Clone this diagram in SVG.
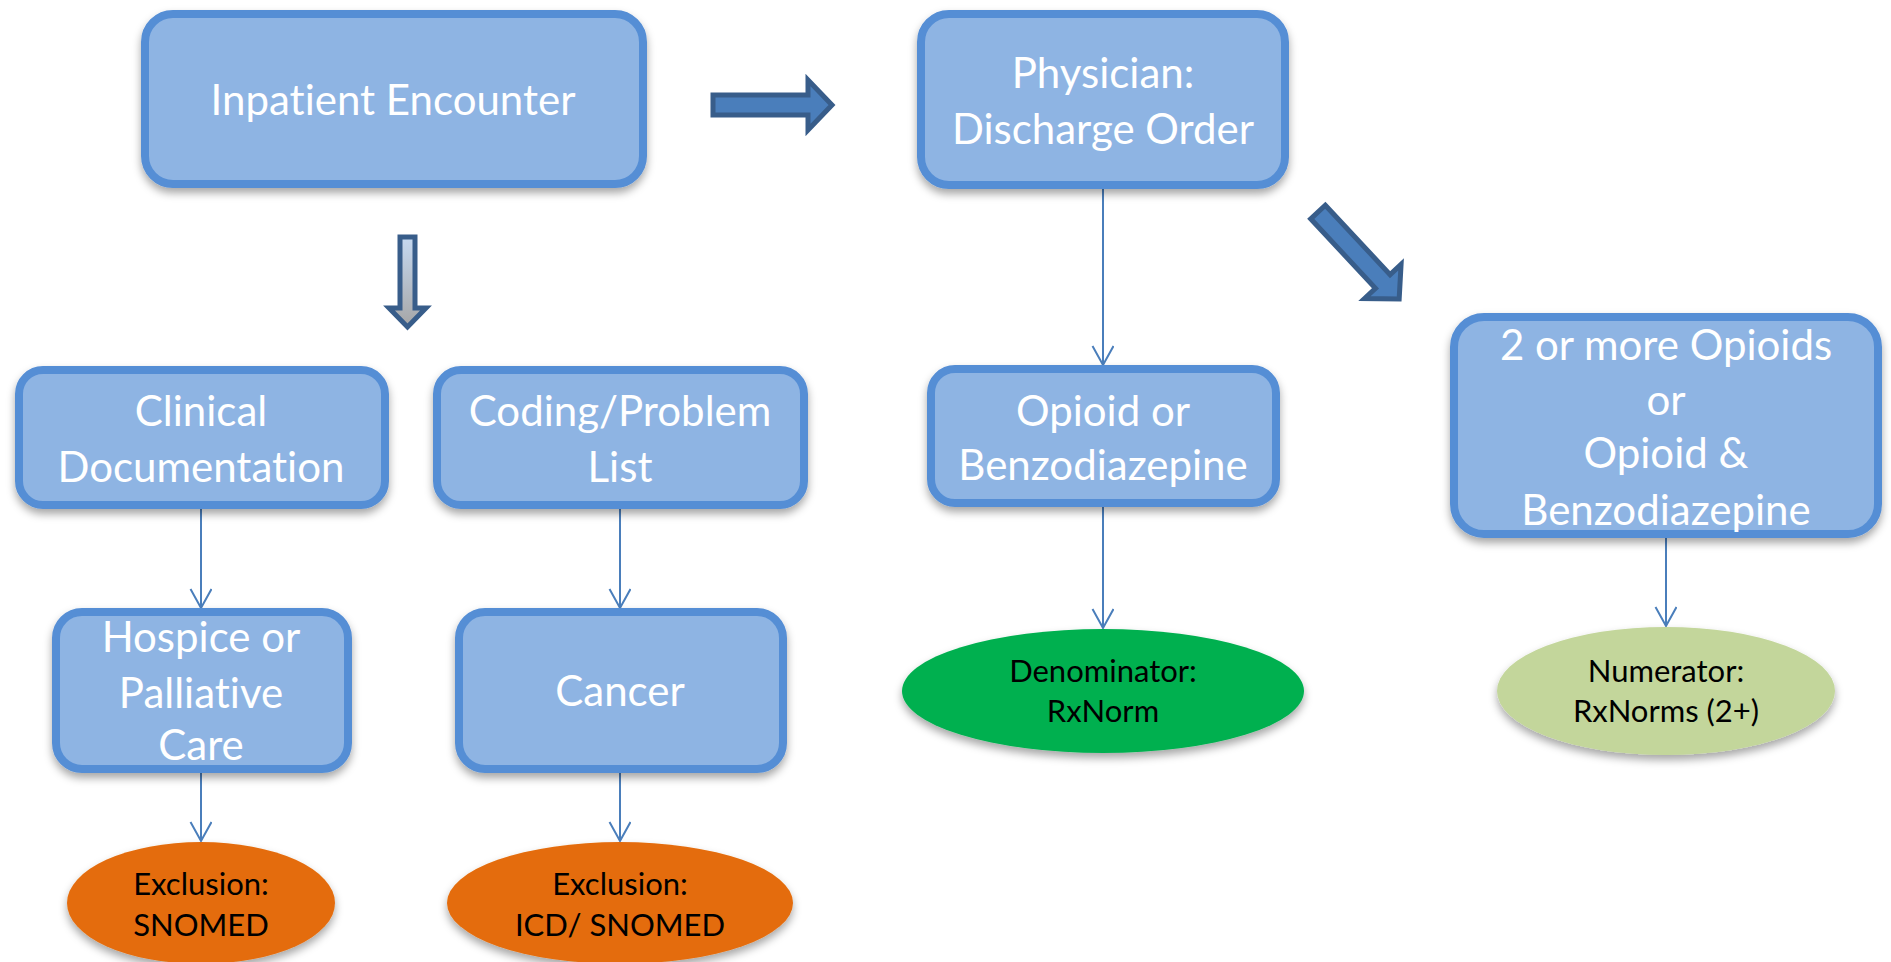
<svg xmlns="http://www.w3.org/2000/svg" width="1891" height="962" viewBox="0 0 1891 962">
<style>
.box{fill:#8EB4E3;stroke:#558ED5;stroke-width:8;filter:url(#sh)}
.bt{font-family:Lato,"Open Sans",sans-serif;font-size:42px;fill:#FFFFFF;text-anchor:middle;font-variant-ligatures:none}
.et{font-family:Lato,"Open Sans",sans-serif;font-size:31px;fill:#000000;text-anchor:middle;font-variant-ligatures:none}
.con{stroke:#4A7EBB;stroke-width:2;fill:none;marker-end:url(#ah)}
.blk{stroke:#385D8A;stroke-width:5;stroke-linejoin:miter}
</style>
<defs>
<filter id="sh" x="-10%" y="-10%" width="120%" height="130%">
<feDropShadow dx="0" dy="5" stdDeviation="4" flood-color="#000" flood-opacity="0.35"/>
</filter>
<marker id="ah" markerUnits="userSpaceOnUse" markerWidth="24" markerHeight="24" refX="20" refY="11" orient="auto">
<path d="M1,0.5 L20,11 L1,21.5" fill="none" stroke="#4A7EBB" stroke-width="2"/>
</marker>
<linearGradient id="dg" x1="0" y1="0" x2="0" y2="1">
<stop offset="0" stop-color="#C6D9F1"/>
<stop offset="1" stop-color="#A6A6A6"/>
</linearGradient>
</defs>

<g id="connectors">
<line class="con" x1="201" y1="509" x2="201" y2="608"/>
<line class="con" x1="620" y1="509" x2="620" y2="608"/>
<line class="con" x1="201" y1="773" x2="201" y2="841"/>
<line class="con" x1="620" y1="773" x2="620" y2="841"/>
<line class="con" x1="1103" y1="189" x2="1103" y2="365"/>
<line class="con" x1="1103" y1="507" x2="1103" y2="628"/>
<line class="con" x1="1666" y1="538" x2="1666" y2="626"/>
<path id="arrow-right" class="blk" fill="#4A7EBB" d="M713,95 L808,95 L808,80 L832,105 L808,130 L808,115 L713,115 Z"/>
<path id="arrow-down" class="blk" fill="url(#dg)" d="M400,237 L415,237 L415,308 L426,308 L407.5,327 L389,308 L400,308 Z"/>
<path id="arrow-diag" class="blk" fill="#4A7EBB" transform="translate(1318,212) rotate(47)" d="M0,-10 L95,-10 L95,-25 L119,0 L95,25 L95,10 L0,10 Z"/>
</g>

<g id="n-inpatient">
<rect class="box" x="145" y="14" width="498" height="170" rx="28"/>
<text class="bt" x="393" y="115">Inpatient Encounter</text>
</g>
<g id="n-physician">
<rect class="box" x="921" y="14" width="364" height="171" rx="28"/>
<text class="bt" x="1103" y="88">Physician:</text>
<text class="bt" x="1103" y="144">Discharge Order</text>
</g>
<g id="n-clinical">
<rect class="box" x="19" y="370" width="366" height="135" rx="24"/>
<text class="bt" x="201" y="426">Clinical</text>
<text class="bt" x="201" y="482">Documentation</text>
</g>
<g id="n-coding">
<rect class="box" x="437" y="370" width="367" height="135" rx="24"/>
<text class="bt" x="620" y="426">Coding/Problem</text>
<text class="bt" x="620" y="482">List</text>
</g>
<g id="n-hospice">
<rect class="box" x="56" y="612" width="292" height="157" rx="26"/>
<text class="bt" x="201" y="652">Hospice or</text>
<text class="bt" x="201" y="708">Palliative</text>
<text class="bt" x="201" y="760">Care</text>
</g>
<g id="n-cancer">
<rect class="box" x="459" y="612" width="324" height="157" rx="26"/>
<text class="bt" x="620" y="706">Cancer</text>
</g>
<g id="n-opioid">
<rect class="box" x="931" y="369" width="345" height="134" rx="24"/>
<text class="bt" x="1103" y="426">Opioid or</text>
<text class="bt" x="1103" y="480">Benzodiazepine</text>
</g>
<g id="n-two">
<rect class="box" x="1454" y="317" width="424" height="217" rx="30"/>
<text class="bt" x="1666" y="360">2 or more Opioids</text>
<text class="bt" x="1666" y="415">or</text>
<text class="bt" x="1666" y="468">Opioid &amp;</text>
<text class="bt" x="1666" y="525">Benzodiazepine</text>
</g>
<g id="n-excl-snomed">
<ellipse cx="201" cy="903" rx="134" ry="61" fill="#E46C0A" filter="url(#sh)"/>
<text class="et" x="201" y="895">Exclusion:</text>
<text class="et" x="201" y="936">SNOMED</text>
</g>
<g id="n-excl-icd">
<ellipse cx="620" cy="903" rx="173" ry="61" fill="#E46C0A" filter="url(#sh)"/>
<text class="et" x="620" y="895">Exclusion:</text>
<text class="et" x="620" y="936">ICD/ SNOMED</text>
</g>
<g id="n-denominator">
<ellipse cx="1103" cy="691" rx="201" ry="62" fill="#00B050" filter="url(#sh)"/>
<text class="et" x="1103" y="682">Denominator:</text>
<text class="et" x="1103" y="722">RxNorm</text>
</g>
<g id="n-numerator">
<ellipse cx="1666" cy="691" rx="169" ry="64" fill="#C3D69B" filter="url(#sh)"/>
<text class="et" x="1666" y="682">Numerator:</text>
<text class="et" x="1666" y="722">RxNorms (2+)</text>
</g>
</svg>
